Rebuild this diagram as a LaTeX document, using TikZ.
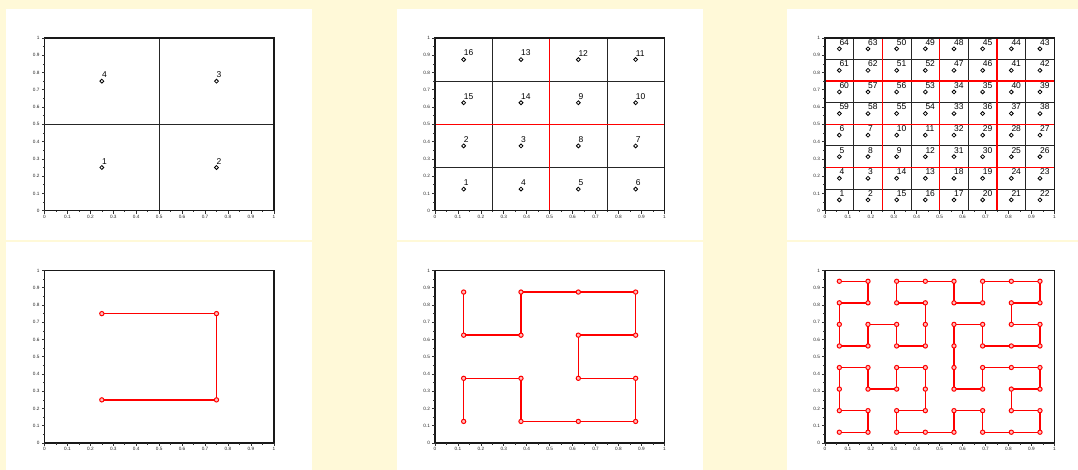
\documentclass[tikz,border=0pt]{standalone}
\usepackage{fontspec}
\setmainfont{Liberation Sans}
\definecolor{bgy}{RGB}{255,249,216}
\definecolor{pr}{RGB}{255,0,0}
\tikzset{
  frame/.style={draw=black!90, line width=1.5bp},
  gridk/.style={draw=black!85, line width=0.9bp},
  gridr/.style={draw=pr, line width=1.6bp},
  tick/.style={draw=black!80, line width=0.6bp},
  pt/.style={circle, draw=black, line width=0.8bp, inner sep=0pt, minimum size=3.9bp},
  rpt/.style={circle, draw=pr, line width=1bp, inner sep=0pt, minimum size=4.3bp, fill=pr!25},
  lab/.style={anchor=south west, inner sep=0pt, yshift=3.3bp, font=\fontsize{8.5}{9}\selectfont},
  tlab/.style={inner sep=0pt, font=\fontsize{4.7}{5}\selectfont, text=black!85},
  curve/.style={draw=pr, line width=1.4bp},
  panel/.style={fill=white, draw=none},
}
% axes ticks and tick labels; #1 = panel id
\newcommand\axdecor[1]{%
  \foreach \v [count=\i] in {0,0.1,0.2,0.3,0.4,0.5,0.6,0.7,0.8,0.9,1}{%
    \draw[tick] (\v,0) -- ++(0,-3bp);
    \draw[tick] (0,\v) -- ++(-3bp,0);
    \node[tlab, anchor=north] (#1x\i) at ([yshift=-4.3bp]\v,0) {\v};
    \node[tlab, anchor=east] (#1y\i) at ([xshift=-4.8bp]0,\v) {\v};
  }%
  \foreach \v in {0.05,0.15,...,0.96}{%
    \draw[tick] (\v,0) -- ++(0,-1.8bp);
    \draw[tick] (0,\v) -- ++(-1.8bp,0);
  }%
}
% labelled points; #1 = cells per side, #2 = prefix, #3 = rows (top to bottom)
\newcommand\labgrid[3]{%
  \foreach \row [count=\rr] in {#3}{%
    \foreach \n [count=\cc] in \row {%
      \pgfmathsetmacro\px{(\cc-0.5)/#1}%
      \pgfmathsetmacro\py{1-(\rr-0.5)/#1}%
      \node[pt] (#2\n) at (\px,\py) {};
      \node[lab] (#2l\n) at (#2\n.center) {\n};
    }%
  }%
}
% curve vertices; #1 = cells per side, #2 = prefix, #3 = rows
\newcommand\curvegrid[3]{%
  \foreach \row [count=\rr] in {#3}{%
    \foreach \n [count=\cc] in \row {%
      \pgfmathsetmacro\px{(\cc-0.5)/#1}%
      \pgfmathsetmacro\py{1-(\rr-0.5)/#1}%
      \coordinate (#2\n) at (\px,\py);
    }%
  }%
}
\newcommand\drawcurve[2]{%
  \draw[curve] (#11) \foreach \i in {2,...,#2}{ -- (#1\i)};
  \foreach \i in {1,...,#2}{ \node[rpt] (#1m\i) at (#1\i) {}; }
}
\begin{document}
\begin{tikzpicture}[x=1bp,y=1bp]
\useasboundingbox (0,0) rectangle (1078,470);
\fill[bgy] (0,0) rectangle (1078,470);
% panels
\fill[panel] (6,230) rectangle (312,461);
\fill[panel] (396.6,230) rectangle (703,461);
\fill[panel] (786.6,230) rectangle (1078,461);
\fill[panel] (6,0) rectangle (312,227.7);
\fill[panel] (396.6,0) rectangle (703,227.7);
\fill[panel] (786.6,0) rectangle (1078,227.7);

% ---------- top left
\begin{scope}[shift={(44.5,259.3)}, x=229.3bp, y=172.7bp]
  \draw[gridk] (0.5,0) -- (0.5,1) (0,0.5) -- (1,0.5);
  \draw[frame] (0,0) rectangle (1,1);
  \axdecor{ta}
  \labgrid{2}{ta}{{4,3},{1,2}}
\end{scope}

% ---------- top middle
\begin{scope}[shift={(435,259.3)}, x=229.3bp, y=172.7bp]
  \foreach \g in {0.25,0.75}{\draw[gridk] (\g,0) -- (\g,1) (0,\g) -- (1,\g);}
  \draw[gridr] (0.5,0) -- (0.5,1) (0,0.5) -- (1,0.5);
  \draw[frame] (0,0) rectangle (1,1);
  \axdecor{tb}
  \labgrid{4}{tb}{{16,13,12,11},{15,14,9,10},{2,3,8,7},{1,4,5,6}}
\end{scope}

% ---------- top right
\begin{scope}[shift={(825,259.3)}, x=229.3bp, y=172.7bp]
  \foreach \g in {0.125,0.375,0.625,0.875}{\draw[gridk] (\g,0) -- (\g,1) (0,\g) -- (1,\g);}
  \foreach \g in {0.25,0.5,0.75}{\draw[gridr] (\g,0) -- (\g,1) (0,\g) -- (1,\g);}
  \draw[frame] (0,0) rectangle (1,1);
  \axdecor{tc}
  \labgrid{8}{tc}{{64,63,50,49,48,45,44,43},{61,62,51,52,47,46,41,42},{60,57,56,53,34,35,40,39},{59,58,55,54,33,36,37,38},{6,7,10,11,32,29,28,27},{5,8,9,12,31,30,25,26},{4,3,14,13,18,19,24,23},{1,2,15,16,17,20,21,22}}
\end{scope}

% ---------- bottom left
\begin{scope}[shift={(44.5,27)}, x=229.3bp, y=172.5bp]
  \draw[frame] (0,0) rectangle (1,1);
  \axdecor{ba}
  \curvegrid{2}{ba}{{4,3},{1,2}}
  \drawcurve{ba}{4}
\end{scope}

% ---------- bottom middle
\begin{scope}[shift={(435,27)}, x=229.3bp, y=172.5bp]
  \draw[frame] (0,0) rectangle (1,1);
  \axdecor{bb}
  \curvegrid{4}{bb}{{16,13,12,11},{15,14,9,10},{2,3,8,7},{1,4,5,6}}
  \drawcurve{bb}{16}
\end{scope}

% ---------- bottom right
\begin{scope}[shift={(825,27)}, x=229.3bp, y=172.5bp]
  \draw[frame] (0,0) rectangle (1,1);
  \axdecor{bc}
  \curvegrid{8}{bc}{{64,63,50,49,48,45,44,43},{61,62,51,52,47,46,41,42},{60,57,56,53,34,35,40,39},{59,58,55,54,33,36,37,38},{6,7,10,11,32,29,28,27},{5,8,9,12,31,30,25,26},{4,3,14,13,18,19,24,23},{1,2,15,16,17,20,21,22}}
  \drawcurve{bc}{64}
\end{scope}
\end{tikzpicture}
\end{document}
